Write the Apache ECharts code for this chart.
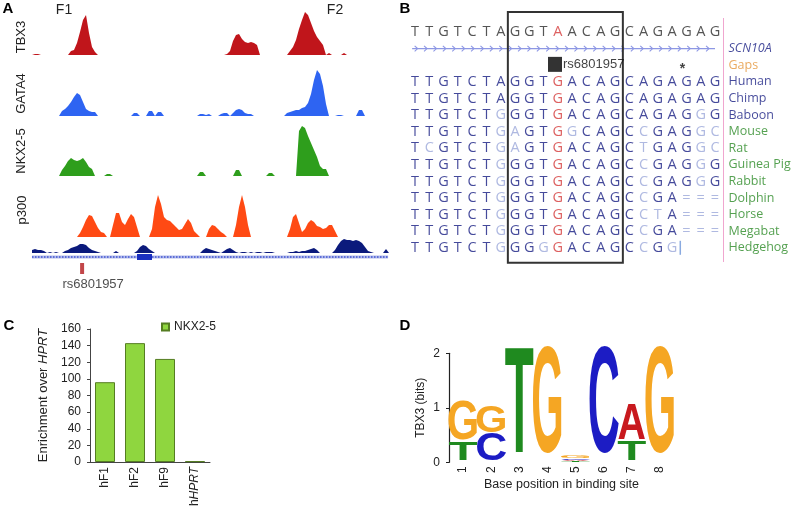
<!DOCTYPE html>
<html><head><meta charset="utf-8">
<script src="https://cdn.jsdelivr.net/npm/echarts@6/dist/echarts.min.js"></script>
<style>html,body{margin:0;padding:0;background:#fff}#c{width:792px;height:512px}</style>
</head><body><div id="c"></div>
<script>
// ---------- Panel A: binned ChIP-seq signal tracks (120 bins) ----------
const trackTBX3 = [
0,1,1,0,0,0,0,0,0,0, 0,0,0,4,5,12,23,35,40,22, 8,3,0,0,0,0,0,0,0,0,
0,0,0,0,0,0,0,0,0,0, 0,0,0,0,0,0,0,0,0,0, 0,0,0,0,0,0,0,0,0,0,
0,0,0,0,0,1,4,14,20,21, 16,13,12,13,12,10,0,0,0,0, 0,0,0,0,0,0,4,8,15,26,
35,43,40,32,24,18,14,10,0,2, 0,0,0,0,2,0,0,0,0,0, 0,0,0,0,0,0,0,0,0,0];
const trackGATA4 = [
0,0,0,0,0,0,0,0,0,0, 5,7,10,14,19,23,21,14,7,5, 4,4,0,0,0,0,0,0,0,0,
0,0,0,0,3,3,0,0,0,5, 5,0,4,4,0,0,0,0,0,0, 0,0,0,0,0,0,2,2,1,2,
0,0,0,2,3,3,0,3,6,7, 6,3,2,2,0,0,0,0,0,0, 0,0,0,0,0,3,4,5,6,6,
8,9,13,22,36,46,42,30,12,0, 0,0,1,1,0,0,0,0,0,6, 6,0,0,0,0,0,0,0,0,0];
const trackNKX25 = [
0,0,0,0,0,0,0,0,0,0, 6,10,15,18,16,15,16,18,14,9, 7,0,0,0,0,2,2,0,0,0,
0,0,0,0,0,0,0,0,0,0, 0,0,0,0,0,0,0,0,0,0, 0,0,0,0,0,0,4,4,0,0,
0,0,0,0,0,0,0,0,6,6, 0,0,0,0,0,0,0,0,0,3, 3,0,0,0,0,0,0,0,0,45,
50,48,40,33,26,19,10,7,7,0, 0,0,0,0,0,0,0,0,0,0, 0,0,0,0,0,0,0,0,0,0];
const trackP300 = [
0,0,0,0,0,0,0,0,0,0, 0,0,0,0,0,0,4,10,17,22, 21,15,9,5,4,0,0,12,24,24,
15,12,18,23,20,10,0,0,0,0, 8,30,42,33,20,17,16,13,10,7, 8,13,18,14,6,3,0,0,0,8,
12,11,8,5,3,0,0,0,12,30, 42,30,12,0,0,0,0,0,0,0, 0,0,0,0,0,0,8,20,23,14,
5,8,14,17,15,11,10,8,9,12, 12,6,0,0,0,0,0,0,0,0, 0,0,0,0,0,0,0,0,0,0];
const trackCons = [
3,4,3,3,2,0,1,0,1,0, 0,2,3,5,6,7,9,9,8,5, 3,2,1,0,0,0,0,0,2,0,
0,0,0,0,0,2,6,8,7,4, 2,0,0,0,0,0,0,0,0,0, 0,0,0,0,0,0,0,3,5,4,
3,2,1,0,2,4,5,3,1,0, 1,1,0,1,0,1,1,0,1,1, 1,0,0,0,0,0,1,1,2,1,
2,2,3,4,5,3,0,0,0,0, 0,3,8,12,14,13,13,12,13,12, 10,6,2,1,0,0,0,0,4,0];
const trackNames = ['TBX3', 'GATA4', 'NKX2-5', 'p300'];
const geneSpan = [0, 118.7];
const geneExons = [[35, 40]];
const snpBin = [16.7];
const snpName = 'rs6801957';
const fragmentNames = ['F1', 'F2'];

// ---------- Panel B: alignment ----------
const refSeq = 'TTGTCTAGGTAACAGCAGAGAG';
const geneName = 'SCN10A';
const gapsName = 'Gaps';
const speciesNames = ['Human','Chimp','Baboon','Mouse','Rat','Guinea Pig','Rabbit','Dolphin','Horse','Megabat','Hedgehog'];
const speciesIsPrimate = [1,1,1,0,0,0,0,0,0,0,0];
const alignSeqs = [
'TTGTCTAGGTGACAGCAGAGAG',
'TTGTCTAGGTGACAGCAGAGAG',
'TTGTCTGGGTGACAGCAGAGGG',
'TTGTCTGAGTGGCAGCCGAGGC',
'TCGTCTGAGTGACAGCTGAGGC',
'TTGTCTGGGTGACAGCCGAGGG',
'TTGTCTGGGTGACAGCCGAGGG',
'TTGTCTGGGTGACAGCCGA===',
'TTGTCTGGGTGACAGCCTA===',
'TTGTCTGGGTGACAGCCGA===',
'TTGTCTGGGGGACAGCCGG'];
const snpCol = 10;
const bindingBox = [6.5, 14.55];

// ---------- Panel C: enrichment ----------
const cCategories = ['hF1', 'hF2', 'hF9', 'hHPRT'];
const cValues = [96, 143, 124, 1];
const cSeriesName = 'NKX2-5';

// ---------- Panel D: sequence logo ----------
const logoPositions = ['1','2','3','4','5','6','7','8'];
const logoPos  = [0,    0,    1,    1,    2,    3,    4,    4,     4,     4,    5,    6,    6,    7];
const logoLow  = [0,    0.36, 0.0,  0.5,  0,    0,    0,    0.02,  0.045, 0.07, 0,    0,    0.36, 0];
const logoHigh = [0.35, 1.08, 0.5,  0.98, 1.98, 1.98, 0.02, 0.045, 0.07,  0.11, 1.98, 0.36, 1.02, 1.98];
const logoChar = ['T',  'G',  'C',  'G',  'T',  'G',  'T',  'A',   'C',   'G',  'C',  'T',  'A',  'G'];

// ---------- styling ----------
const FONT = 'Liberation Sans';
const DARK = '#161d82', LIGHT = '#9ba7d9', RED = '#d43a3a', GREEN = '#2b8a26';
const logoColors = {A:'#c8191e', C:'#1c1cc4', G:'#f5a623', T:'#1f8a1f'};
const inkW = {A:0.70, C:0.62, G:0.66, T:0.58};

const chart = echarts.init(document.getElementById('c'), null, {renderer:'canvas'});

const trackGrid = (top, height) => ({left:32, top, width:357, height, outerBoundsMode:'none'});
const grids = [
  trackGrid(12, 43), trackGrid(70, 46), trackGrid(126, 50), trackGrid(195, 42), trackGrid(238, 15),
  trackGrid(254, 6), trackGrid(263, 11),
  {left:415, top:32, width:300, height:13*16.6, outerBoundsMode:'none'},
  {left:90, top:329, width:120, height:133, outerBoundsMode:'none'},
  {left:449, top:353.3, width:225, height:109, outerBoundsMode:'none'}
];
const xAxes = [], yAxes = [];
const yMax = [43, 46, 50, 42, 15];
for (let i = 0; i < 7; i++) {
  xAxes.push({type:'value', gridIndex:i, min:0, max:119, show:false});
}
yMax.forEach((m, i) => yAxes.push({type:'value', gridIndex:i, min:0, max:m, show:false}));
yAxes.push({type:'value', gridIndex:5, min:-1, max:1, show:false});
yAxes.push({type:'value', gridIndex:6, min:0, max:1, show:false});
xAxes.push({type:'value', gridIndex:7, min:0, max:21, show:false});
yAxes.push({type:'value', gridIndex:7, min:0, max:13, inverse:true, show:false});
// C
xAxes.push({type:'category', gridIndex:8, data:cCategories,
  axisLine:{lineStyle:{color:'#444'}}, axisTick:{length:4, lineStyle:{color:'#444'}},
  axisLabel:{rotate:90, margin:5, color:'#222', fontFamily:FONT, fontSize:12,
    formatter: v => v === 'hHPRT' ? '{n|h}{i|HPRT}' : '{n|' + v + '}',
    rich:{n:{fontFamily:FONT, fontSize:12, color:'#222'}, i:{fontFamily:FONT, fontSize:12, fontStyle:'italic', color:'#222'}}}});
yAxes.push({type:'value', gridIndex:8, min:0, max:160, interval:20,
  axisLine:{show:true, lineStyle:{color:'#444'}}, axisTick:{show:true, length:3, lineStyle:{color:'#444'}},
  splitLine:{show:false},
  axisLabel:{margin:9, color:'#222', fontFamily:FONT, fontSize:12},
  name:'{n|Enrichment over }{i|HPRT}', nameLocation:'middle', nameGap:40,
  nameTextStyle:{rich:{n:{fontFamily:FONT, fontSize:13, color:'#222'}, i:{fontFamily:FONT, fontSize:13, fontStyle:'italic', color:'#222'}}}});
// D
xAxes.push({type:'category', gridIndex:9, data:logoPositions,
  axisLine:{show:false}, axisTick:{show:false},
  axisLabel:{rotate:90, margin:4, color:'#222', fontFamily:FONT, fontSize:12},
  name:'Base position in binding site', nameLocation:'middle', nameGap:16,
  nameTextStyle:{fontFamily:FONT, fontSize:12.5, color:'#222', verticalAlign:'top'}});
yAxes.push({type:'value', gridIndex:9, min:0, max:2, interval:1,
  axisLine:{show:true, lineStyle:{color:'#222', width:1.2}}, axisTick:{show:true, length:3, lineStyle:{color:'#222'}},
  splitLine:{show:false},
  axisLabel:{margin:9, color:'#222', fontFamily:FONT, fontSize:12},
  name:'TBX3 (bits)', nameLocation:'middle', nameGap:22,
  nameTextStyle:{fontFamily:FONT, fontSize:12, color:'#222'}});

const series = [];
const trackColors = ['#c0151b', '#2e64f2', '#2e9e1c', '#ff4a14', '#0b1a7c'];
[trackTBX3, trackGATA4, trackNKX25, trackP300, trackCons].forEach((arr, i) => {
  series.push({type:'line', xAxisIndex:i, yAxisIndex:i, symbol:'none', silent:true,
    data: arr.map((v, k) => [k, v]), lineStyle:{width:0}, color:trackColors[i],
    areaStyle:{color:trackColors[i], opacity:1}});
});
// gene model
series.push({type:'line', xAxisIndex:5, yAxisIndex:5, symbol:'none', silent:true, z:2,
  data:[[geneSpan[0], 0], [geneSpan[1], 0]], lineStyle:{color:'#b3bcec', width:3}});
series.push({type:'line', xAxisIndex:5, yAxisIndex:5, symbol:'none', silent:true, z:2,
  data:[[geneSpan[0], 0], [geneSpan[1], 0]], lineStyle:{color:'#4254cf', width:1.5, type:[1.5, 1.5]}});
series.push({type:'custom', xAxisIndex:5, yAxisIndex:5, silent:true, z:5, data:geneExons,
  renderItem:(p, api) => {
    const a = api.coord([api.value(0), 1]), b = api.coord([api.value(1), -1]);
    return {type:'rect', z2:10, shape:{x:a[0], y:a[1], width:b[0]-a[0], height:b[1]-a[1]}, style:{fill:'#1a2fc0'}};
  }});
series.push({type:'scatter', xAxisIndex:6, yAxisIndex:6, silent:true, symbol:'rect', symbolSize:[4, 11],
  data: snpBin.map(b => ({name:snpName, value:[b, 0.5]})), itemStyle:{color:'#b3181c'},
  label:{show:true, position:'bottom', distance:4, offset:[11, 0], formatter:'{b}', color:'#222', fontFamily:FONT, fontSize:13}});

// Panel B
const seqData = [];
for (let c = 0; c < refSeq.length; c++) {
  seqData.push({name:refSeq[c], value:[c, 0], label:{color: c === snpCol ? RED : '#2a2a2a'}});
}
alignSeqs.forEach((s, r) => {
  for (let c = 0; c < s.length; c++) {
    const ch = s[c];
    let col = DARK;
    if (c === snpCol) col = RED;
    else if (ch === '=' || ch !== alignSeqs[0][c]) col = LIGHT;
    seqData.push({name:ch, value:[c, r + 3], label:{color:col}});
  }
});
series.push({type:'scatter', xAxisIndex:7, yAxisIndex:7, silent:true, clip:false, symbolSize:1, itemStyle:{color:'rgba(0,0,0,0)'},
  data:seqData, label:{show:true, position:'inside', formatter:'{b}', fontFamily:'Open Sans', fontSize:14.5}});
const sideLabels = [
  {name:geneName, value:[21.91, 1], label:{color:'#161d82', fontStyle:'italic'}},
  {name:gapsName, value:[21.91, 2], label:{color:'#e5963a'}}
].concat(speciesNames.map((n, i) => ({name:n, value:[21.91, i + 3], label:{color: speciesIsPrimate[i] ? DARK : GREEN}})));
series.push({type:'scatter', xAxisIndex:7, yAxisIndex:7, silent:true, clip:false, symbolSize:1, itemStyle:{color:'rgba(0,0,0,0)'},
  data:sideLabels, label:{show:true, position:'right', distance:0, formatter:'{b}', fontFamily:'Open Sans', fontSize:12.5}});
// gene arrow line
series.push({type:'custom', xAxisIndex:7, yAxisIndex:7, silent:true, data:[[-0.2, 21, 1]],
  renderItem:(p, api) => {
    const a = api.coord([api.value(0), api.value(2)]), b = api.coord([api.value(1), api.value(2)]);
    const ch = [{type:'line', shape:{x1:a[0], y1:a[1], x2:b[0], y2:b[1]}, style:{stroke:'#8d97e4', lineWidth:1.2}}];
    for (let x = a[0] + 5; x < b[0] - 1; x += 9.4) {
      ch.push({type:'polyline', shape:{points:[[x - 2.5, a[1] - 2.8], [x + 0.5, a[1]], [x - 2.5, a[1] + 2.8]]}, style:{stroke:'#8d97e4', fill:null, lineWidth:1.1}});
    }
    return {type:'group', children:ch};
  }});
// snp box + star + hedgehog end marker
series.push({type:'scatter', xAxisIndex:7, yAxisIndex:7, silent:true, clip:false, symbol:'rect', symbolSize:[14, 15],
  data:[{name:snpName, value:[9.8, 1.95]}], itemStyle:{color:'#000'},
  label:{show:true, position:'right', distance:1, formatter:'{b}', color:'#111', fontFamily:FONT, fontSize:13}});
series.push({type:'scatter', xAxisIndex:7, yAxisIndex:7, silent:true, clip:false, symbolSize:1, itemStyle:{color:'rgba(0,0,0,0)'},
  data:[{name:'*', value:[18.72, 2.25]}], label:{show:true, position:'inside', formatter:'{b}', color:'#111', fontFamily:FONT, fontSize:14, fontWeight:'bold'}});
series.push({type:'scatter', xAxisIndex:7, yAxisIndex:7, silent:true, clip:false, symbol:'rect', symbolSize:[1.5, 14],
  data:[[18.57, 13]], itemStyle:{color:'#6d95d8'}});
series.push({type:'custom', xAxisIndex:7, yAxisIndex:7, silent:true, data:[[bindingBox[0], bindingBox[1], -1.2, 13.9]],
  renderItem:(p, api) => {
    const a = api.coord([api.value(0), api.value(2)]), b = api.coord([api.value(1), api.value(3)]);
    return {type:'rect', shape:{x:a[0], y:a[1], width:b[0]-a[0], height:b[1]-a[1]}, style:{fill:null, stroke:'#333', lineWidth:2}};
  }});

// Panel C
series.push({type:'bar', name:cSeriesName, xAxisIndex:8, yAxisIndex:8, data:cValues, barWidth:20,
  itemStyle:{color:'#8fd63f', borderColor:'#557d22', borderWidth:1}, silent:true});

// Panel D
const logoData = logoPos.map((p, i) => [p, logoLow[i], logoHigh[i], 'ACGT'.indexOf(logoChar[i])]);
series.push({type:'custom', xAxisIndex:9, yAxisIndex:9, silent:true, data:logoData,
  renderItem:(params, api) => {
    const p = api.value(0), y0 = api.value(1), y1 = api.value(2), ch = 'ACGT'[api.value(3)];
    const b = api.coord([p, y0]), t = api.coord([p, y1]);
    const w = api.size([1, 0])[0] * 0.98;
    const h = Math.max(0.6, b[1] - t[1]);
    const F = 100;
    const sx = w / (inkW[ch] * F), sy = h / (0.716 * F);
    return {type:'text', x:b[0], y:(b[1] + t[1]) / 2 + 0.0115 * F * sy, scaleX:sx, scaleY:sy,
      style:{text:ch, fontSize:F, fontWeight:'bold', fontFamily:FONT, fill:logoColors[ch], align:'center', verticalAlign:'middle'}};
  }});

const txt = (text, x, y, opts = {}) => Object.assign({type:'text', x, y, silent:true,
  style:Object.assign({text, fontFamily:FONT, fontSize:13, fill:'#222', align:'center', verticalAlign:'middle'}, opts.style || {})},
  opts.el || {});
const graphic = [
  txt('A', 8, 9, {style:{fontWeight:'bold', fontSize:15, fill:'#000'}}),
  txt('B', 405, 9, {style:{fontWeight:'bold', fontSize:15, fill:'#000'}}),
  txt('C', 9, 326, {style:{fontWeight:'bold', fontSize:15, fill:'#000'}}),
  txt('D', 405, 326, {style:{fontWeight:'bold', fontSize:15, fill:'#000'}}),
  txt(fragmentNames[0], 64, 10, {style:{fontSize:14}}),
  txt(fragmentNames[1], 335, 10, {style:{fontSize:14}}),
  txt(trackNames[0], 21, 37, {el:{rotation:Math.PI/2}}),
  txt(trackNames[1], 21, 93.5, {el:{rotation:Math.PI/2}}),
  txt(trackNames[2], 21, 151, {el:{rotation:Math.PI/2}}),
  txt(trackNames[3], 22, 210, {el:{rotation:Math.PI/2}}),
  {type:'line', silent:true, shape:{x1:723.5, y1:18, x2:723.5, y2:262}, style:{stroke:'#f0a6cf', lineWidth:1}}
];

chart.setOption({
  animation:false,
  backgroundColor:'#fff',
  grid:grids, xAxis:xAxes, yAxis:yAxes, series,
  legend:{show:true, data:[cSeriesName], left:161, top:321, itemWidth:7, itemHeight:7, icon:'rect', padding:0,
    textStyle:{fontFamily:FONT, fontSize:12, color:'#222'}, selectedMode:false},
  graphic
});
</script></body></html>
